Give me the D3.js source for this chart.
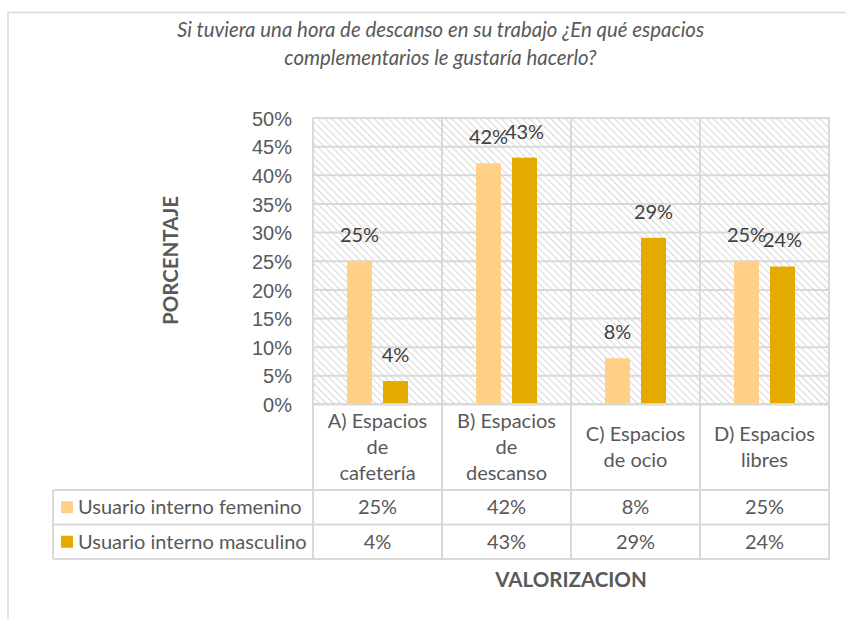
<!DOCTYPE html>
<html>
<head>
<meta charset="utf-8">
<script src="https://cdn.jsdelivr.net/npm/d3@7"></script>
<style>
  body { margin: 0; background: #fff; }
  svg { display: block; font-family: Lato, "Open Sans", sans-serif; }
  .tick text { fill: #595959; font-size: 20px; }
</style>
</head>
<body>
<svg id="chart" width="846" height="619"></svg>
<script>
// data
const categories = ['A) Espacios de cafetería', 'B) Espacios de descanso', 'C) Espacios de ocio', 'D) Espacios libres'];
const seriesNames = ['Usuario interno femenino', 'Usuario interno masculino'];
const femenino = [0.25, 0.42, 0.08, 0.25];
const masculino = [0.04, 0.43, 0.29, 0.24];
const yTicks = [0, 0.05, 0.10, 0.15, 0.20, 0.25, 0.30, 0.35, 0.40, 0.45, 0.50];
const titleLines = ['Si tuviera una hora de descanso en su trabajo ¿En qué espacios', 'complementarios le gustaría hacerlo?'];

const colors = ['#FFD086', '#E3AA00'];
const seriesValues = [femenino, masculino];

// dimension stuff
const plotLeft = 313;
const plotRight = 829;
const plotTop = 117.5;
const plotBottom = 404;
const catRowBottom = 490;
const rowH = 34.5;
const tableLeft = 53;
const gridColor = '#d9d9d9';
const fontSize = 20;
const pct = d3.format('.0%');

const $svg = d3.select('#chart');

// hatch pattern for plot background
const defs = $svg.append('defs');
const pat = defs.append('pattern')
  .attr('id', 'hatch')
  .attr('patternUnits', 'userSpaceOnUse')
  .attr('width', 5)
  .attr('height', 5)
  .attr('patternTransform', 'rotate(-45)');
pat.append('rect').attr('width', 5).attr('height', 5).attr('fill', '#fff');
pat.append('line')
  .attr('x1', 0).attr('y1', 0).attr('x2', 0).attr('y2', 5)
  .attr('stroke', '#d9d9d9').attr('stroke-width', 2.2);

// outer chart border
$svg.append('path')
  .attr('d', `M8,${700} V12.5 H${900}`)
  .attr('fill', 'none')
  .attr('stroke', gridColor)
  .attr('stroke-width', 1.5);

// scales
const x = d3.scaleBand().domain(categories).range([plotLeft, plotRight]);
const xSub = d3.scaleBand().domain(seriesNames).range([0, x.bandwidth()])
  .paddingInner(0.3056).paddingOuter(0.944);
const y = d3.scaleLinear().domain([0, 0.5]).range([plotBottom, plotTop]);

// title
$svg.append('g').selectAll('text')
  .data(titleLines)
  .join('text')
  .attr('x', 440.5)
  .attr('y', (d, i) => 37 + i * 28)
  .attr('text-anchor', 'middle')
  .attr('font-style', 'italic')
  .attr('font-size', 20.4)
  .attr('fill', '#595959')
  .text(d => d);

// plot background
$svg.append('rect')
  .attr('x', plotLeft).attr('y', plotTop)
  .attr('width', plotRight - plotLeft).attr('height', plotBottom - plotTop)
  .attr('fill', 'url(#hatch)');

// horizontal gridlines
$svg.append('g')
  .attr('transform', `translate(${plotLeft},0)`)
  .call(d3.axisLeft(y).tickValues(yTicks).tickSize(-(plotRight - plotLeft)).tickFormat(''))
  .call(g => g.select('.domain').remove())
  .call(g => g.selectAll('line').attr('stroke', gridColor).attr('stroke-width', 2));

// vertical lines (plot + table columns)
const vx = categories.map(c => x(c)).concat([plotRight]);
$svg.append('g').selectAll('line')
  .data(vx)
  .join('line')
  .attr('x1', d => d).attr('x2', d => d)
  .attr('y1', plotTop).attr('y2', catRowBottom + 2 * rowH)
  .attr('stroke', gridColor).attr('stroke-width', 2);

// y axis labels
$svg.append('g')
  .attr('transform', 'translate(292,0)')
  .call(d3.axisLeft(y).tickValues(yTicks).tickSize(0).tickPadding(0).tickFormat(pct))
  .call(g => g.select('.domain').remove())
  .call(g => g.selectAll('text').attr('dy', '0.38em'));

// bars
const groups = $svg.append('g').selectAll('g')
  .data(seriesNames)
  .join('g')
  .attr('fill', (d, i) => colors[i]);

groups.selectAll('rect')
  .data((s, si) => categories.map((c, ci) => ({ c, s, v: seriesValues[si][ci] })))
  .join('rect')
  .attr('x', d => x(d.c) + xSub(d.s))
  .attr('y', d => y(d.v))
  .attr('width', xSub.bandwidth())
  .attr('height', d => y(0) - y(d.v));

// data labels
groups.selectAll('text')
  .data((s, si) => categories.map((c, ci) => ({ c, s, v: seriesValues[si][ci] })))
  .join('text')
  .attr('x', d => x(d.c) + xSub(d.s) + xSub.bandwidth() / 2)
  .attr('y', d => y(d.v) - 19)
  .attr('text-anchor', 'middle')
  .attr('font-size', fontSize)
  .attr('fill', '#404040')
  .text(d => pct(d.v));

// table horizontal lines
const hLines = [
  { y: plotBottom, x1: plotLeft },
  { y: catRowBottom, x1: tableLeft },
  { y: catRowBottom + rowH, x1: tableLeft },
  { y: catRowBottom + 2 * rowH, x1: tableLeft }
];
$svg.append('g').selectAll('line')
  .data(hLines)
  .join('line')
  .attr('x1', d => d.x1).attr('x2', plotRight + 1)
  .attr('y1', d => d.y).attr('y2', d => d.y)
  .attr('stroke', gridColor).attr('stroke-width', 2);
$svg.append('line')
  .attr('x1', tableLeft).attr('x2', tableLeft)
  .attr('y1', catRowBottom).attr('y2', catRowBottom + 2 * rowH)
  .attr('stroke', gridColor).attr('stroke-width', 2);

// category labels, wrapped like excel does
const lineH = 26;
const wrapWidth = 102;
const $cats = $svg.append('g').selectAll('text')
  .data(categories)
  .join('text')
  .attr('text-anchor', 'middle')
  .attr('font-size', fontSize)
  .attr('fill', '#595959');

$cats.each(function(c) {
  const $t = d3.select(this);
  const words = c.split(' ');
  const lines = [];
  let cur = [];
  const probe = $t.append('tspan');
  words.forEach(w => {
    const test = cur.concat([w]).join(' ');
    probe.text(test);
    if (cur.length && probe.node().getComputedTextLength() > wrapWidth) {
      lines.push(cur.join(' '));
      cur = [w];
    } else {
      cur.push(w);
    }
  });
  lines.push(cur.join(' '));
  probe.remove();
  const cx = x(c) + x.bandwidth() / 2;
  const mid = (plotBottom + catRowBottom) / 2;
  const y0 = mid - (lines.length - 1) * lineH / 2 + 7;
  $t.selectAll('tspan')
    .data(lines)
    .join('tspan')
    .attr('x', cx)
    .attr('y', (d, i) => y0 + i * lineH)
    .text(d => d);
});

// table rows
const rows = $svg.append('g').selectAll('g')
  .data(seriesNames)
  .join('g')
  .attr('transform', (d, i) => `translate(0,${catRowBottom + i * rowH + rowH / 2})`);

rows.append('rect')
  .attr('x', 61).attr('y', -6)
  .attr('width', 12).attr('height', 12)
  .attr('fill', (d, i) => colors[i]);

rows.append('text')
  .attr('x', 78).attr('y', 7)
  .attr('font-size', fontSize)
  .attr('fill', '#595959')
  .text(d => d);

rows.selectAll('text.val')
  .data((s, si) => categories.map((c, ci) => ({ c, v: seriesValues[si][ci] })))
  .join('text')
  .attr('class', 'val')
  .attr('x', d => x(d.c) + x.bandwidth() / 2)
  .attr('y', 7)
  .attr('text-anchor', 'middle')
  .attr('font-size', fontSize)
  .attr('fill', '#595959')
  .text(d => pct(d.v));

// axis titles
$svg.append('text')
  .attr('transform', `translate(178,260.5) rotate(-90)`)
  .attr('text-anchor', 'middle')
  .attr('font-size', 20.5)
  .attr('font-weight', 'bold')
  .attr('fill', '#595959')
  .text('PORCENTAJE');

$svg.append('text')
  .attr('x', (plotLeft + plotRight) / 2)
  .attr('y', 587)
  .attr('text-anchor', 'middle')
  .attr('font-size', 20.5)
  .attr('font-weight', 'bold')
  .attr('fill', '#595959')
  .text('VALORIZACION');
</script>
</body>
</html>
